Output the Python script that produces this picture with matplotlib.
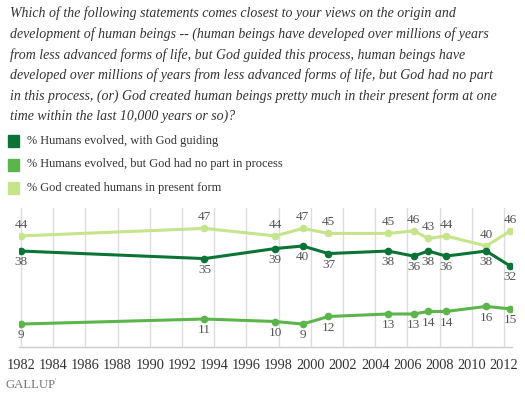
import matplotlib
matplotlib.use("Agg")
import matplotlib.pyplot as plt
from matplotlib.patches import Rectangle

# ---- data ----
years = [1982.0, 1993.4, 1997.8, 1999.5, 2001.1, 2004.8, 2006.4, 2007.3, 2008.4, 2010.9, 2012.4]
god_guided = [38, 35, 39, 40, 37, 38, 36, 38, 36, 38, 32]
no_god = [9, 11, 10, 9, 12, 13, 13, 14, 14, 16, 15]
creation = [44, 47, 44, 47, 45, 45, 46, 43, 44, 40, 46]
tick_years = list(range(1982, 2013, 2))
series_names = ["% Humans evolved, with God guiding",
                "% Humans evolved, but God had no part in process",
                "% God created humans in present form"]
title_lines = [
    "Which of the following statements comes closest to your views on the origin and",
    "development of human beings -- (human beings have developed over millions of years",
    "from less advanced forms of life, but God guided this process, human beings have",
    "developed over millions of years from less advanced forms of life, but God had no part",
    "in this process, (or) God created human beings pretty much in their present form at one",
    "time within the last 10,000 years or so)?",
]

c_dark = "#0b7335"
c_mid = "#5cb54a"
c_light = "#c6e48b"
label_col = "#555555"
serif = ["Liberation Serif", "DejaVu Serif"]

W, H = 525, 404
fig = plt.figure(figsize=(W / 100, H / 100), dpi=100)

def fx(px):
    return px / W

def fy(py):
    return 1 - py / H

# title
for i, line in enumerate(title_lines):
    fig.text(fx(10), fy(13.5 + i * 20.6), line, fontsize=10.0, style="italic",
             family=serif, color="#333333", va="center", ha="left")

# legend
for i, (name, col) in enumerate(zip(series_names, [c_dark, c_mid, c_light])):
    yc = 141 + i * 23.5
    fig.patches.append(Rectangle((fx(8), fy(yc + 6)), 11 / W, 12 / H,
                                 transform=fig.transFigure, color=col))
    fig.text(fx(27), fy(yc), name, fontsize=8.9, family=serif,
             color="#333333", va="center", ha="left")

ax = fig.add_axes([fx(19), fy(346.7), fx(512) - fx(19), fy(208) - fy(346.7)])
ax.set_xlim(1981.88, 2012.5)
ax.set_ylim(0, 55.1)
for s in ["top", "right", "left"]:
    ax.spines[s].set_visible(False)
ax.spines["bottom"].set_color("#cccccc")
ax.spines["bottom"].set_linewidth(1)
ax.set_yticks([])
ax.set_xticks(tick_years)
ax.set_xticklabels([str(y) for y in tick_years], family=serif, fontsize=10.4, color="#333333")
ax.tick_params(axis="x", length=0, pad=9)
for y in tick_years:
    ax.axvline(y, color="#dcdcdc", lw=1, zorder=0)

for vals, col, pos in [(creation, c_light, "above"), (god_guided, c_dark, "below"), (no_god, c_mid, "below")]:
    ax.plot(years, vals, color=col, lw=2.2, marker="o", ms=4.5, zorder=3)
    for x, v in zip(years, vals):
        off = 8 if pos == "above" else -8
        ax.annotate(str(v), (x, v), xytext=(0, off), textcoords="offset points",
                    ha="center", va="center", fontsize=9.5, family=serif, color=label_col)

fig.text(fx(5), fy(385), "GALLUP", fontsize=9.2, family=serif, color="#777777", va="center", ha="left")
fig.text(fx(55), fy(380), "'", fontsize=5, family=serif, color="#777777", va="center", ha="left")

fig.savefig("out.png", dpi=100)
